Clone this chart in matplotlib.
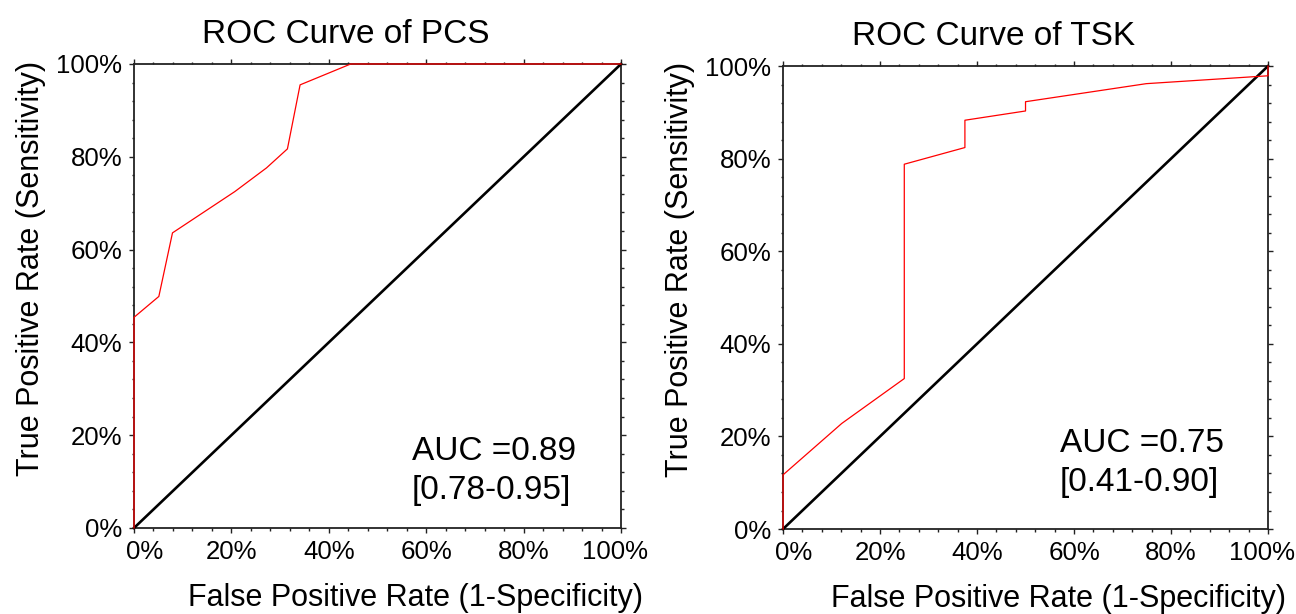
import matplotlib
matplotlib.use("Agg")
import matplotlib.pyplot as plt
from matplotlib.ticker import MultipleLocator, PercentFormatter
from matplotlib.transforms import ScaledTranslation

plt.rcParams['font.family'] = ['Liberation Sans', 'DejaVu Sans']

# ROC points (fractions)
pcs_fpr = [0.0, 0.0, 0.051, 0.079, 0.207, 0.272, 0.315, 0.341, 0.445, 1.0]
pcs_tpr = [0.0, 0.454, 0.499, 0.636, 0.725, 0.776, 0.817, 0.955, 1.0, 1.0]

tsk_fpr = [0.0, 0.0, 0.121, 0.25, 0.25, 0.375, 0.375, 0.50, 0.50, 0.749, 1.0, 1.0]
tsk_tpr = [0.0, 0.117, 0.228, 0.325, 0.788, 0.824, 0.883, 0.903, 0.923, 0.962, 0.979, 1.0]

titles = ["ROC Curve of PCS", "ROC Curve of TSK"]
auc_text = ["AUC =0.89\n[0.78-0.95]", "AUC =0.75\n[0.41-0.90]"]
auc_y = [0.123, 0.143]

fig = plt.figure(figsize=(12.96, 6.14), dpi=100)
ax1 = fig.add_axes([0.1034, 0.1401, 0.3758, 0.7557])
ax2 = fig.add_axes([0.6042, 0.1384, 0.3742, 0.7540])

curves = [(pcs_fpr, pcs_tpr), (tsk_fpr, tsk_tpr)]
xlab_x = [0.577, 0.569]

for i, ax in enumerate([ax1, ax2]):
    fpr, tpr = curves[i]
    ax.plot([0, 1], [0, 1], color='black', lw=1.9, clip_on=False, zorder=3)
    ax.plot(fpr, tpr, color='red', lw=0.9, clip_on=False, zorder=4)
    ax.set_xlim(0, 1)
    ax.set_ylim(0, 1)
    ax.xaxis.set_major_locator(MultipleLocator(0.2))
    ax.xaxis.set_minor_locator(MultipleLocator(0.04))
    ax.yaxis.set_major_locator(MultipleLocator(0.2))
    ax.yaxis.set_minor_locator(MultipleLocator(0.04))
    ax.xaxis.set_major_formatter(PercentFormatter(1.0, decimals=0))
    ax.yaxis.set_major_formatter(PercentFormatter(1.0, decimals=0))
    ax.tick_params(which='both', direction='out', top=True, right=True,
                   labeltop=False, labelright=False, width=1, color='#222222')
    ax.tick_params(which='major', length=3.6, labelsize=18.6, pad=5)
    ax.tick_params(which='minor', length=1.8)
    for s in ax.spines.values():
        s.set_linewidth(1.3)
        s.set_color('#222222')
    ax.set_title(titles[i], fontsize=24, pad=15, x=0.435)
    ax.set_xlabel("False Positive Rate (1-Specificity)", fontsize=22, labelpad=14)
    ax.set_ylabel("True Positive Rate (Sensitivity)", fontsize=22, labelpad=7)
    ax.xaxis.label.set_x(xlab_x[i])
    ax.yaxis.label.set_y(0.56)
    ax.text(0.571, auc_y[i], auc_text[i], fontsize=24, ha='left', va='center',
            linespacing=1.35, transform=ax.transAxes)

    # end labels of the x axis are nudged inwards a little, like the original
    locs = list(ax.xaxis.get_majorticklocs())
    ticks = ax.xaxis.get_major_ticks(len(locs))
    for tick, loc in zip(ticks, locs):
        if abs(loc) < 1e-9:
            dx = 11
        elif abs(loc - 1) < 1e-9:
            dx = -6
        else:
            continue
        lab = tick.label1
        lab.set_transform(lab.get_transform() + ScaledTranslation(dx / 100, 0, fig.dpi_scale_trans))

fig.savefig("out.png", dpi=100)
